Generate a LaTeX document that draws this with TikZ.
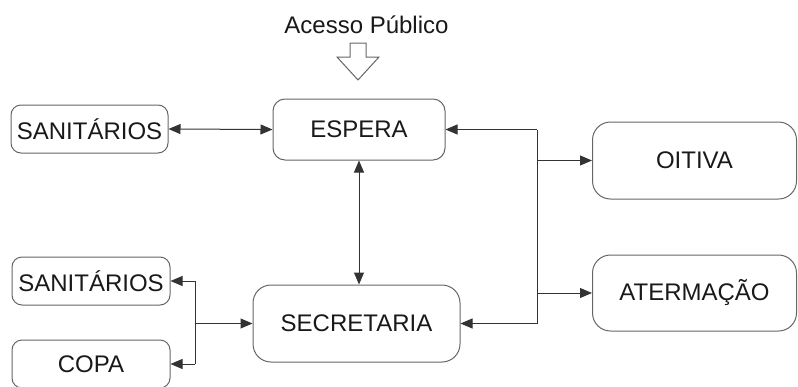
\documentclass[tikz,border=0pt]{standalone}
\usepackage{fontspec}
\setmainfont{Liberation Sans}
\usetikzlibrary{arrows.meta}
\begin{document}
\begin{tikzpicture}[x=1pt,y=-1pt,
  box/.style={draw=black!60, line width=1pt, rounded corners=12pt, inner sep=0pt,
    font=\fontsize{24}{28}\selectfont, text=black!90},
  arr/.style={line width=1pt, draw=black!80, -{Triangle[length=12pt,width=10pt]}},
  darr/.style={line width=1pt, draw=black!80, {Triangle[length=12pt,width=10pt]}-{Triangle[length=12pt,width=10pt]}},
  ln/.style={line width=1pt, draw=black!80}]
\useasboundingbox (0,0) rectangle (798,386);
\node[box, minimum width=172pt, minimum height=61pt] (esp) at (359,129.5) {ESPERA};
\node[box, rounded corners=10pt, minimum width=157pt, minimum height=48pt] (san1) at (89.5,129) {SANITÁRIOS};
\node[box, rounded corners=10pt, minimum width=158pt, minimum height=48pt] (san2) at (91,281) {SANITÁRIOS};
\node[box, rounded corners=10pt, minimum width=158pt, minimum height=48pt] (copa) at (91,364) {COPA};
\node[box, rounded corners=18pt, minimum width=207pt, minimum height=77pt] (sec) at (356.5,323.5) {SECRETARIA};
\node[box, rounded corners=18pt, minimum width=204pt, minimum height=77pt] (oit) at (694.5,160.5) {OITIVA};
\node[box, rounded corners=18pt, minimum width=204pt, minimum height=76pt] (ate) at (694.5,293) {ATERMAÇÃO};
\node[font=\fontsize{24}{28}\selectfont, text=black!90, anchor=base, inner sep=0pt] (ap) at (366.5,33) {Acesso Público};
% hollow arrow
\draw[draw=black!60, fill=white, line width=1pt] (350,43) -- (366,43) -- (366,57) -- (379,57) -- (358,80) -- (337,57) -- (350,57) -- cycle;
% connectors
\draw[darr] (san1.east) -- (esp.west);
\draw[darr] (esp.south) -- (esp.south |- sec.north);
\coordinate (L) at (195,0);
\coordinate (R) at (537,0);
\draw[ln] (san2.east -| L) -- (copa.east -| L);
\draw[arr] (san2.east -| L) -- (san2.east);
\draw[arr] (copa.east -| L) -- (copa.east);
\draw[arr] (sec.west -| L) -- (sec.west);
\draw[ln] (esp.east -| R) -- (sec.east -| R);
\draw[arr] (esp.east -| R) -- (esp.east);
\draw[arr] (sec.east -| R) -- (sec.east);
\draw[arr] (oit.west -| R) -- (oit.west);
\draw[arr] (ate.west -| R) -- (ate.west);
\end{tikzpicture}
\end{document}
